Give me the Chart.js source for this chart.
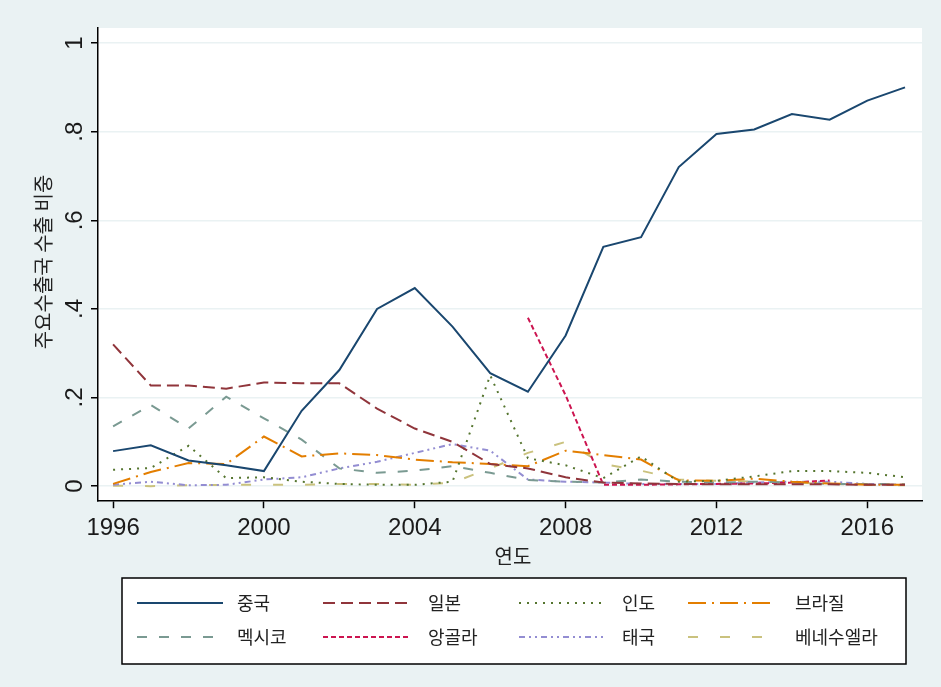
<!DOCTYPE html>
<html>
<head>
<meta charset="utf-8">
<script src="https://cdn.jsdelivr.net/npm/chart.js@4.4.1/dist/chart.umd.min.js"></script>
<style>
  html, body { margin: 0; padding: 0; background: #eaf2f3; }
  #wrap { width: 941px; height: 687px; }
</style>
</head>
<body>
<div id="wrap"><canvas id="myChart"></canvas></div>
<script>
// 연도별 주요 수출국 비중
var years = [1996, 1997, 1998, 1999, 2000, 2001, 2002, 2003, 2004, 2005, 2006,
             2007, 2008, 2009, 2010, 2011, 2012, 2013, 2014, 2015, 2016, 2017]
var xTicks = [1996, 2000, 2004, 2008, 2012, 2016]
var yTicks = [0, 0.2, 0.4, 0.6, 0.8, 1]

var china     = [0.079, 0.092, 0.058, 0.047, 0.034, 0.170, 0.262, 0.400, 0.447, 0.360, 0.255,
                 0.213, 0.340, 0.540, 0.562, 0.720, 0.795, 0.805, 0.840, 0.827, 0.870, 0.900]
var japan     = [0.320, 0.227, 0.227, 0.220, 0.234, 0.232, 0.232, 0.175, 0.130, 0.100, 0.050,
                 0.040, 0.020, 0.008, 0.006, 0.005, 0.004, 0.004, 0.004, 0.004, 0.003, 0.003]
var india     = [0.037, 0.041, 0.091, 0.018, 0.020, 0.010, 0.005, 0.003, 0.003, 0.010, 0.250,
                 0.063, 0.047, 0.018, 0.067, 0.010, 0.012, 0.022, 0.034, 0.034, 0.030, 0.020]
var brazil    = [0.005, 0.032, 0.052, 0.050, 0.112, 0.067, 0.074, 0.070, 0.060, 0.054, 0.050,
                 0.045, 0.080, 0.070, 0.060, 0.013, 0.012, 0.017, 0.010, 0.006, 0.003, 0.003]
var mexico    = [0.135, 0.183, 0.130, 0.202, 0.153, 0.105, 0.040, 0.030, 0.035, 0.045, 0.030,
                 0.014, 0.010, 0.008, 0.015, 0.010, 0.008, 0.010, 0.008, 0.005, 0.005, 0.004]
var angola    = [null, null, null, null, null, null, null, null, null, null, null,
                 0.380, 0.205, 0.003, 0.003, 0.004, 0.005, 0.006, 0.008, 0.013, null, null]
var thailand  = [0.003, 0.010, 0.002, 0.003, 0.015, 0.020, 0.040, 0.055, 0.075, 0.095, 0.080,
                 0.015, 0.010, 0.008, 0.005, 0.005, 0.005, 0.008, 0.010, 0.010, 0.005, 0.003]
var venezuela = [0.001, 0.000, 0.002, 0.003, 0.003, 0.003, 0.005, 0.005, 0.003, 0.008, 0.040,
                 0.075, 0.100, 0.050, 0.035, 0.015, 0.012, 0.010, 0.008, 0.005, 0.003, 0.002]

function pts(vals) {
    return years.map((yr, i) => ({ x: yr, y: vals[i] }))
}

function line(label, vals, color, dash) {
    return {
        label: label,
        data: pts(vals),
        borderColor: color,
        backgroundColor: color,
        borderDash: dash,
        borderWidth: 2,
        pointRadius: 0,
        fill: false,
        tension: 0,
        spanGaps: false
    }
}

var KFONT = '"Noto Sans CJK KR", "Noto Sans", sans-serif'
var NFONT = '"Liberation Sans", Arial, sans-serif'

// 배경, y축 눈금 글자, 축 제목, 범례
var deco = {
    id: 'deco',
    beforeDraw(chart) {
        const { ctx, chartArea: a } = chart
        ctx.save()
        ctx.fillStyle = '#eaf2f3'
        ctx.fillRect(0, 0, chart.width, chart.height)
        ctx.fillStyle = '#ffffff'
        ctx.fillRect(a.left, a.top, a.right - a.left, a.bottom - a.top)
        ctx.restore()
    },
    afterDraw(chart) {
        const { ctx } = chart
        const ys = chart.scales.y
        ctx.save()
        ctx.fillStyle = '#1a1a1a'
        ctx.font = '24px ' + NFONT
        ctx.textAlign = 'center'
        ctx.textBaseline = 'middle'
        yTicks.forEach(v => {
            let lab = (v === 0 || v === 1) ? String(v) : String(v).replace('0.', '.')
            ctx.save()
            ctx.translate(75, ys.getPixelForValue(v))
            ctx.rotate(-Math.PI / 2)
            ctx.fillText(lab, 0, 0)
            ctx.restore()
        })

        ctx.fillStyle = '#222'
        ctx.font = '20px ' + KFONT
        ctx.save()
        ctx.translate(43, 262)
        ctx.rotate(-Math.PI / 2)
        ctx.fillText('주요수출국 수출 비중', 0, 0)
        ctx.restore()
        ctx.fillText('연도', 513, 556)

        // legend box
        ctx.fillStyle = '#ffffff'
        ctx.fillRect(122, 578, 784, 86)
        ctx.strokeStyle = '#000'
        ctx.lineWidth = 1.5
        ctx.strokeRect(122, 578, 784, 86)

        const colX = [137, 323, 519, 688]
        const txtX = [237, 428, 622, 795]
        const rowY = [603, 637]
        ctx.font = '18px ' + KFONT
        ctx.textAlign = 'left'
        chart.data.datasets.forEach((ds, i) => {
            const c = i % 4, r = Math.floor(i / 4)
            ctx.strokeStyle = ds.borderColor
            ctx.lineWidth = ds.borderWidth
            ctx.setLineDash(ds.borderDash)
            ctx.beginPath()
            ctx.moveTo(colX[c], rowY[r])
            ctx.lineTo(colX[c] + 86, rowY[r])
            ctx.stroke()
            ctx.setLineDash([])
            ctx.fillStyle = '#222'
            ctx.fillText(ds.label, txtX[c], rowY[r])
        })
        ctx.restore()
    }
}

var ctx = document.getElementById('myChart').getContext('2d')
var chart = new Chart(ctx, {
    type: 'line',
    data: {
        datasets: [
            line('중국', china, '#1a476f', []),
            line('일본', japan, '#90353b', [12, 6]),
            line('인도', india, '#55752f', [2, 6]),
            line('브라질', brazil, '#e37e00', [18, 6, 2, 6]),
            line('멕시코', mexico, '#7a9a92', [10, 12]),
            line('앙골라', angola, '#cc1450', [5, 3]),
            line('태국', thailand, '#938dd2', [6, 4, 2, 4, 2, 4]),
            line('베네수엘라', venezuela, '#cac27e', [10, 22])
        ]
    },
    options: {
        responsive: true,
        maintainAspectRatio: false,
        animation: false,
        layout: { padding: { left: 91, top: 28, right: 19, bottom: 138 } },
        plugins: { legend: { display: false }, tooltip: { enabled: false } },
        scales: {
            x: {
                type: 'linear',
                min: 1995.6,
                max: 2017.45,
                afterBuildTicks: s => { s.ticks = xTicks.map(v => ({ value: v })) },
                ticks: {
                    color: '#1a1a1a',
                    font: { family: NFONT, size: 24 },
                    padding: 6,
                    maxRotation: 0,
                    callback: v => String(v)
                },
                grid: { drawOnChartArea: false, tickLength: 7, tickColor: '#000', tickWidth: 1.5 },
                border: { color: '#000', width: 1.5 }
            },
            y: {
                min: -0.034,
                max: 1.034,
                afterBuildTicks: s => { s.ticks = yTicks.map(v => ({ value: v })) },
                ticks: { display: false },
                grid: { color: '#eaf2f3', lineWidth: 1.5, tickLength: 7, tickColor: '#000', tickWidth: 1.5 },
                border: { color: '#000', width: 1.5 }
            }
        }
    },
    plugins: [deco]
})
</script>
</body>
</html>
